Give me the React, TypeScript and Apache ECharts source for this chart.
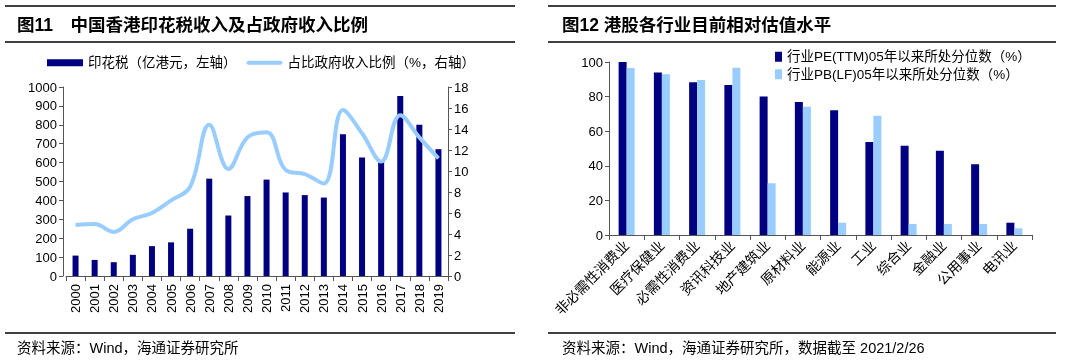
import React, { useEffect, useRef } from "react";
import * as echarts from "echarts";

const years = ["2000","2001","2002","2003","2004","2005","2006","2007","2008","2009","2010","2011","2012","2013","2014","2015","2016","2017","2018","2019"];
const stampDuty = [108, 85, 73, 112, 158, 178, 250, 515, 320, 423, 510, 442, 428, 415, 750, 627, 613, 952, 800, 671];
const shareOfRevenue = [4.85, 4.95, 4.2, 5.4, 6.0, 7.2, 8.5, 14.4, 10.2, 13.2, 13.7, 10.1, 9.7, 8.8, 15.8, 13.6, 10.9, 15.3, 13.2, 11.2];

const industries = ["非必需性消费业","医疗保健业","必需性消费业","资讯科技业","地产建筑业","原材料业","能源业","工业","综合业","金融业","公用事业","电讯业"];
const pePct = [100, 94, 88.3, 86.7, 80, 76.9, 72.1, 53.8, 51.6, 48.7, 40.9, 7.1];
const pbPct = [96.5, 92.9, 89.6, 96.7, 29.9, 74.2, 7.1, 69, 6.4, 6.4, 6.4, 3.9];

const NAVY = "#000080";
const LIGHT = "#99CCFF";
const FONT = "'Liberation Sans', Arial, 'Noto Sans CJK SC', sans-serif";
const AXIS = "#555";

export default function App() {
  const ref = useRef<HTMLDivElement>(null);
  useEffect(() => {
    document.body.style.margin = "0";
    const chart = echarts.init(ref.current!, null, { renderer: "svg" });
    const hline = (x1: number, x2: number, y: number) => ({
      type: "line",
      shape: { x1, y1: y, x2, y2: y },
      style: { stroke: "#000", lineWidth: 1.5 },
    });
    const txt = (x: number, y: number, text: string, size: number, bold: boolean) => ({
      type: "text",
      x,
      y,
      style: {
        text,
        fill: "#000",
        font: `${bold ? "bold " : ""}${size}px ${FONT}`,
        textVerticalAlign: "middle",
      },
    });
    const axisLabel = { color: "#000", fontSize: 13, fontFamily: FONT };
    chart.setOption({
      animation: false,
      textStyle: { fontFamily: FONT },
      graphic: [
        hline(5, 515, 6),
        hline(5, 515, 42),
        hline(5, 515, 333),
        hline(548, 1056, 6),
        hline(548, 1056, 42),
        hline(548, 1056, 333),
        txt(17, 25, "图11　中国香港印花税收入及占政府收入比例", 17.5, true),
        txt(562, 25, "图12 港股各行业目前相对估值水平", 17.5, true),
        txt(17, 348, "资料来源：Wind，海通证券研究所", 14.5, false),
        txt(562, 348, "资料来源：Wind，海通证券研究所，数据截至 2021/2/26", 14.5, false),
      ],
      legend: [
        {
          left: 47,
          top: 56,
          padding: 0,
          itemGap: 10,
          itemWidth: 36,
          itemHeight: 7,
          textStyle: { color: "#000", fontSize: 13.5, fontFamily: FONT },
          data: [
            { name: "印花税（亿港元，左轴）", icon: "rect" },
            {
              name: "占比政府收入比例（%，右轴）",
              icon: "path://M2,0 L32,0 A2,2 0 0 1 32,4 L2,4 A2,2 0 0 1 2,0 Z",
            },
          ],
        },
        {
          orient: "vertical",
          left: 775,
          top: 50,
          padding: 0,
          itemGap: 4,
          itemWidth: 7,
          itemHeight: 10,
          textStyle: { color: "#000", fontSize: 13.5, fontFamily: FONT },
          data: [
            { name: "行业PE(TTM)05年以来所处分位数（%）", icon: "rect" },
            { name: "行业PB(LF)05年以来所处分位数（%）", icon: "rect" },
          ],
        },
      ],
      grid: [
        { left: 66, right: 1080 - 448, top: 87, bottom: 363 - 276 },
        { left: 609, right: 48, top: 62, bottom: 363 - 235 },
      ],
      xAxis: [
        {
          type: "category",
          gridIndex: 0,
          data: years,
          axisLine: { lineStyle: { color: AXIS } },
          axisTick: { show: true, length: 5, lineStyle: { color: AXIS } },
          axisLabel: { ...axisLabel, rotate: 90, margin: 8, interval: 0 },
        },
        {
          type: "category",
          gridIndex: 1,
          data: industries,
          axisLine: { lineStyle: { color: AXIS } },
          axisTick: { show: true, length: 5, lineStyle: { color: AXIS } },
          axisLabel: { ...axisLabel, fontSize: 14, rotate: 45, margin: 8, interval: 0 },
        },
      ],
      yAxis: [
        {
          type: "value",
          gridIndex: 0,
          min: 0,
          max: 1000,
          interval: 100,
          offset: 3,
          splitLine: { show: false },
          axisLine: { show: true, lineStyle: { color: AXIS } },
          axisTick: { show: true, length: 4, lineStyle: { color: AXIS } },
          axisLabel: { ...axisLabel, margin: 6, formatter: (v: number) => String(v) },
        },
        {
          type: "value",
          gridIndex: 0,
          position: "right",
          min: 0,
          max: 18,
          interval: 2,
          splitLine: { show: false },
          axisLine: { show: true, lineStyle: { color: AXIS } },
          axisTick: { show: true, length: 4, lineStyle: { color: AXIS } },
          axisLabel: { ...axisLabel, margin: 6 },
        },
        {
          type: "value",
          gridIndex: 1,
          min: 0,
          max: 100,
          interval: 20,
          splitLine: { show: false },
          axisLine: { show: true, lineStyle: { color: AXIS } },
          axisTick: { show: true, length: 4, lineStyle: { color: AXIS } },
          axisLabel: { ...axisLabel, margin: 6 },
        },
      ],
      series: [
        {
          name: "印花税（亿港元，左轴）",
          type: "bar",
          xAxisIndex: 0,
          yAxisIndex: 0,
          data: stampDuty,
          barWidth: 6,
          itemStyle: { color: NAVY },
        },
        {
          name: "占比政府收入比例（%，右轴）",
          type: "line",
          xAxisIndex: 0,
          yAxisIndex: 1,
          data: shareOfRevenue,
          smooth: 0.4,
          symbol: "none",
          lineStyle: { color: LIGHT, width: 4 },
          itemStyle: { color: LIGHT },
        },
        {
          name: "行业PE(TTM)05年以来所处分位数（%）",
          type: "bar",
          xAxisIndex: 1,
          yAxisIndex: 2,
          data: pePct,
          barWidth: 8,
          barGap: "0%",
          itemStyle: { color: NAVY },
        },
        {
          name: "行业PB(LF)05年以来所处分位数（%）",
          type: "bar",
          xAxisIndex: 1,
          yAxisIndex: 2,
          data: pbPct,
          barWidth: 8,
          barGap: "0%",
          itemStyle: { color: LIGHT },
        },
      ],
    });
    return () => chart.dispose();
  }, []);
  return (
    <div
      ref={ref}
      style={{ position: "fixed", left: 0, top: 0, width: 1080, height: 363 }}
    />
  );
}
